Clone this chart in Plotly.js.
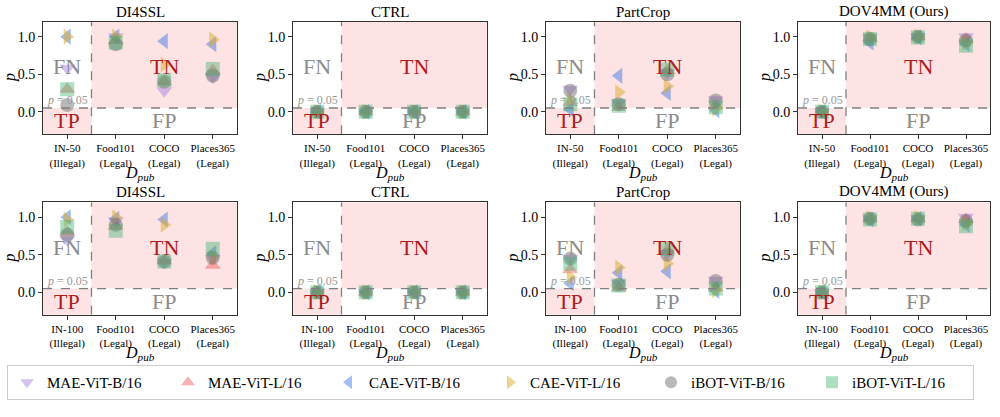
<!DOCTYPE html>
<html><head><meta charset="utf-8">
<script src="https://cdn.plot.ly/plotly-3.0.1.min.js"></script>
<style>html,body{margin:0;padding:0;background:#fff}#chart{width:1000px;height:417px}</style>
</head><body><div id="chart"></div>
<script>
const models = ['MAE-ViT-B/16','MAE-ViT-L/16','CAE-ViT-B/16','CAE-ViT-L/16','iBOT-ViT-B/16','iBOT-ViT-L/16'];
const symbols = ['triangle-down','triangle-up','triangle-left','triangle-right','circle','square'];
const colors = ['rgba(160,120,225,0.45)','rgba(240,85,85,0.45)','rgba(70,125,230,0.5)','rgba(220,170,40,0.5)','rgba(115,115,115,0.5)','rgba(60,179,113,0.42)'];
const catsIN50 = ['IN-50<br>(Illegal)','Food101<br>(Legal)','COCO<br>(Legal)','Places365<br>(Legal)'];
const catsIN100 = ['IN-100<br>(Illegal)','Food101<br>(Legal)','COCO<br>(Legal)','Places365<br>(Legal)'];
const methods = ['DI4SSL','CTRL','PartCrop','DOV4MM (Ours)'];
// rows follow models, columns follow categories
const di4ssl_in50 = [
  [0.58, 1.00, 0.28, 0.46],
  [0.30, 0.95, 0.40, 0.55],
  [1.00, 1.00, 0.94, 0.90],
  [1.00, 1.00, 0.63, 0.96],
  [0.09, 0.90, 0.40, 0.48],
  [0.30, 0.92, 0.42, 0.57]];
const ctrl_in50 = [
  [0.00, 0.00, 0.00, 0.00],
  [0.00, 0.00, 0.00, 0.00],
  [0.00, 0.00, 0.00, 0.00],
  [0.00, 0.00, 0.00, 0.00],
  [0.00, 0.00, 0.00, 0.00],
  [0.00, 0.00, 0.00, 0.00]];
const partcrop_in50 = [
  [0.30, 0.12, 0.52, 0.16],
  [0.12, 0.06, 0.55, 0.08],
  [0.03, 0.48, 0.25, 0.02],
  [0.16, 0.26, 0.34, 0.04],
  [0.28, 0.10, 0.50, 0.15],
  [0.10, 0.08, 0.56, 0.06]];
const dov4mm_in50 = [
  [0.00, 0.99, 1.00, 1.00],
  [0.00, 0.98, 1.00, 0.97],
  [0.00, 0.92, 0.99, 0.90],
  [0.00, 0.99, 1.00, 0.92],
  [0.00, 0.97, 1.00, 0.95],
  [0.00, 0.97, 0.99, 0.88]];
const di4ssl_in100 = [
  [0.70, 0.95, 0.40, 0.45],
  [0.80, 0.88, 0.42, 0.36],
  [1.00, 0.98, 0.97, 0.52],
  [0.97, 1.00, 0.90, 0.47],
  [0.77, 0.90, 0.41, 0.46],
  [0.87, 0.82, 0.41, 0.58]];
const ctrl_in100 = [
  [0.00, 0.00, 0.00, 0.00],
  [0.00, 0.00, 0.00, 0.00],
  [0.00, 0.00, 0.00, 0.00],
  [0.00, 0.00, 0.00, 0.00],
  [0.00, 0.00, 0.00, 0.00],
  [0.00, 0.00, 0.00, 0.00]];
const partcrop_in100 = [
  [0.45, 0.12, 0.52, 0.16],
  [0.30, 0.06, 0.56, 0.06],
  [0.12, 0.26, 0.28, 0.02],
  [0.20, 0.33, 0.38, 0.03],
  [0.45, 0.10, 0.50, 0.15],
  [0.38, 0.09, 0.58, 0.05]];
const dov4mm_in100 = [
  [0.00, 0.98, 0.98, 1.00],
  [0.00, 0.98, 0.98, 0.97],
  [0.00, 0.97, 0.98, 0.90],
  [0.00, 0.99, 0.99, 0.92],
  [0.00, 0.98, 0.97, 0.95],
  [0.00, 0.97, 0.98, 0.88]];
const threshold = 0.05;
const yTicks = [0, 0.5, 1.0];

const panels = [
  {title: methods[0], data: di4ssl_in50, cats: catsIN50},
  {title: methods[1], data: ctrl_in50, cats: catsIN50},
  {title: methods[2], data: partcrop_in50, cats: catsIN50},
  {title: methods[3], data: dov4mm_in50, cats: catsIN50},
  {title: methods[0], data: di4ssl_in100, cats: catsIN100},
  {title: methods[1], data: ctrl_in100, cats: catsIN100},
  {title: methods[2], data: partcrop_in100, cats: catsIN100},
  {title: methods[3], data: dov4mm_in100, cats: catsIN100}
];

const xDomains = [[0.043,0.237],[0.293,0.487],[0.546,0.740],[0.798,0.990]];
const yDomains = [[0.678,0.948],[0.245,0.515]];
const FONT = '"Liberation Serif", "Times New Roman", serif';

const traces = [];
const layout = {
  width: 1000, height: 417,
  margin: {l:0, r:0, t:0, b:0},
  paper_bgcolor: '#fff', plot_bgcolor: 'rgba(0,0,0,0)',
  font: {family: FONT, color: '#000', size: 13},
  hovermode: false,
  shapes: [], annotations: [],
  showlegend: true,
  legend: {
    orientation: 'h', x: 0.007, y: 0.1247, xanchor: 'left', yanchor: 'top',
    bordercolor: '#cccccc', borderwidth: 1, bgcolor: '#fff',
    font: {family: FONT, size: 15, color: '#000'},
    entrywidth: 116, entrywidthmode: 'pixels', itemsizing: 'constant',
    tracegroupgap: 0
  }
};

panels.forEach((p, i) => {
  const n = i + 1;
  const xa = n === 1 ? 'x' : 'x' + n;
  const ya = n === 1 ? 'y' : 'y' + n;
  const row = Math.floor(i / 4), col = i % 4;
  const xIdx = p.cats.map((c, k) => k);
  layout['xaxis' + (n === 1 ? '' : n)] = {
    domain: xDomains[col], anchor: ya, range: [-0.5, 3.5],
    tickvals: xIdx, ticktext: p.cats, tickfont: {size: 11, family: FONT},
    showgrid: false, zeroline: false, showline: true, mirror: true,
    linecolor: '#333', linewidth: 1, ticks: 'outside', ticklen: 4, tickcolor: '#333',
    fixedrange: true
  };
  layout['yaxis' + (n === 1 ? '' : n)] = {
    domain: yDomains[row], anchor: xa, range: [-0.3, 1.2],
    tickvals: yTicks, tickformat: '.1f', tickfont: {size: 14, family: FONT},
    showgrid: false, zeroline: false, showline: true, mirror: true,
    linecolor: '#333', linewidth: 1, ticks: 'outside', ticklen: 4, tickcolor: '#333',
    fixedrange: true
  };
  // shaded regions
  layout.shapes.push({type:'rect', xref:xa, yref:ya, x0:-0.5, x1:0.5, y0:-0.3, y1:threshold, fillcolor:'#fde3e3', line:{width:0}, layer:'below'});
  layout.shapes.push({type:'rect', xref:xa, yref:ya, x0:0.5, x1:3.5, y0:threshold, y1:1.2, fillcolor:'#fde3e3', line:{width:0}, layer:'below'});
  layout.shapes.push({type:'line', xref:xa, yref:ya, x0:-0.5, x1:3.5, y0:threshold, y1:threshold, line:{color:'#808080', width:1.3, dash:'dash'}, layer:'above'});
  layout.shapes.push({type:'line', xref:xa, yref:ya, x0:0.5, x1:0.5, y0:-0.3, y1:1.2, line:{color:'#808080', width:1.3, dash:'dash'}, layer:'above'});
  // region labels
  const big = {family: FONT, size: 22};
  layout.annotations.push({xref:xa, yref:ya, x:0, y:0.6, text:'FN', showarrow:false, font:Object.assign({color:'#8c8c8c'}, big)});
  layout.annotations.push({xref:xa, yref:ya, x:2, y:0.6, text:'TN', showarrow:false, font:Object.assign({color:'#b01c1c'}, big)});
  layout.annotations.push({xref:xa, yref:ya, x:0, y:-0.12, text:'TP', showarrow:false, font:Object.assign({color:'#b01c1c'}, big)});
  layout.annotations.push({xref:xa, yref:ya, x:2, y:-0.12, text:'FP', showarrow:false, font:Object.assign({color:'#8c8c8c'}, big)});
  layout.annotations.push({xref:xa, yref:ya, x:0, y:threshold, yanchor:'bottom', yshift:-1, text:'<i>p</i> = 0.05', showarrow:false, font:{family:FONT, size:12, color:'#999'}});
  // titles
  layout.annotations.push({xref:xa + ' domain', yref:ya + ' domain', x:0.5, y:1, yanchor:'bottom', yshift:0, text:p.title, showarrow:false, font:{family:FONT, size:15, color:'#000'}});
  layout.annotations.push({xref:xa + ' domain', yref:ya + ' domain', x:0.5, y:0, yanchor:'middle', yshift:-39, text:'<i>D</i><sub><i>pub</i></sub>', showarrow:false, font:{family:FONT, size:16, color:'#000'}});
  layout.annotations.push({xref:xa + ' domain', yref:ya + ' domain', x:0, y:0.5, xanchor:'center', xshift:-33, textangle:-90, text:'<i>p</i>', showarrow:false, font:{family:FONT, size:16, color:'#000'}});
  // markers
  p.data.forEach((vals, m) => {
    traces.push({
      type: 'scatter', mode: 'markers', xaxis: xa, yaxis: ya,
      x: xIdx, y: vals, name: models[m], legendgroup: models[m],
      showlegend: i === 0,
      marker: {symbol: symbols[m], color: colors[m], size: 14, line: {width: 0}},
      cliponaxis: false
    });
  });
});

Plotly.newPlot('chart', traces, layout, {displayModeBar: false, staticPlot: true});
</script>
</body></html>
